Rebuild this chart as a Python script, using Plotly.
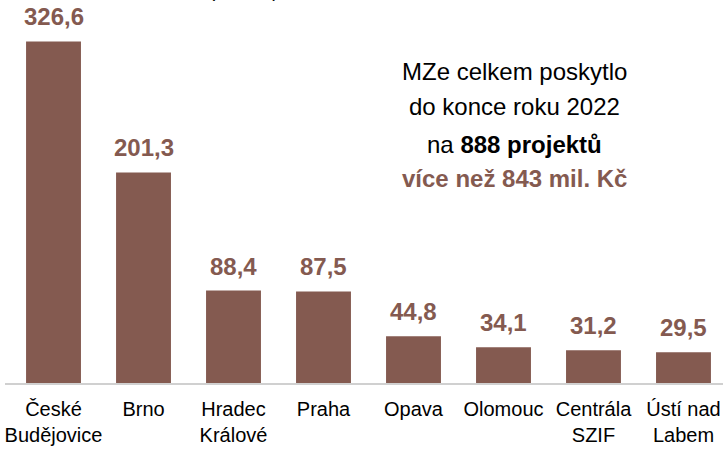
import plotly.graph_objects as go

# pracoviště a částky (mil. Kč)
pracoviste = ["České<br>Budějovice", "Brno", "Hradec<br>Králové", "Praha",
              "Opava", "Olomouc", "Centrála<br>SZIF", "Ústí nad<br>Labem"]
castky = [326.6, 201.3, 88.4, 87.5, 44.8, 34.1, 31.2, 29.5]

popisky = [f"{v:.1f}".replace(".", ",") for v in castky]
info_radky = [
    "MZe celkem poskytlo",
    "do konce roku 2022",
    "na <b>888 projektů</b>",
    "<b>více než 843 mil. Kč</b>",
]

HNEDA = "#845A50"
FONT = "Liberation Sans, Arial, sans-serif"
VYSKA = 383  # výška kreslicí plochy v px

fig = go.Figure()
fig.add_trace(go.Bar(
    x=pracoviste, y=castky,
    marker=dict(color=HNEDA, line=dict(width=0)),
    width=0.61,
    hoverinfo="skip",
))

# hodnoty nad sloupci
for kat, val, txt in zip(pracoviste, castky, popisky):
    fig.add_annotation(
        x=kat, y=val, text=f"<b>{txt}</b>", showarrow=False,
        yanchor="bottom", yshift=9,
        font=dict(family=FONT, size=24, color=HNEDA),
    )

# textový rámeček vpravo
radky_y = [71, 107, 144, 178]
for i, (radek, py) in enumerate(zip(info_radky, radky_y)):
    fig.add_annotation(
        x=0.710, y=1 - py / VYSKA, xref="paper", yref="paper",
        text=radek, showarrow=False, xanchor="center", yanchor="middle",
        font=dict(family=FONT, size=24, color=HNEDA if i == 3 else "#000000"),
    )

# useknutý nadpis nahoře
fig.add_annotation(
    x=(244 - 5) / 718, y=1, xref="paper", yref="paper",
    text="(mil. Kč)", showarrow=False, xanchor="center", yanchor="bottom",
    yshift=-3, font=dict(family=FONT, size=19, color="#000000"),
)

fig.update_layout(
    width=723, height=452,
    margin=dict(l=5, r=0, t=0, b=452 - VYSKA),
    paper_bgcolor="white", plot_bgcolor="white",
    showlegend=False,
    font=dict(family=FONT, size=19, color="#000000"),
)
fig.update_xaxes(
    range=[-0.539, 7.439], showgrid=False, showline=True,
    linecolor="#D0D0D0", linewidth=2, ticks="",
    ticklabelstandoff=7,
    tickfont=dict(family=FONT, size=20, color="#000000"),
)
fig.update_yaxes(
    range=[0, VYSKA / 1.046], visible=False, showgrid=False, zeroline=False,
)

fig.write_html("out.html", config={"displayModeBar": False},
               post_script="document.body.style.margin='0';")
